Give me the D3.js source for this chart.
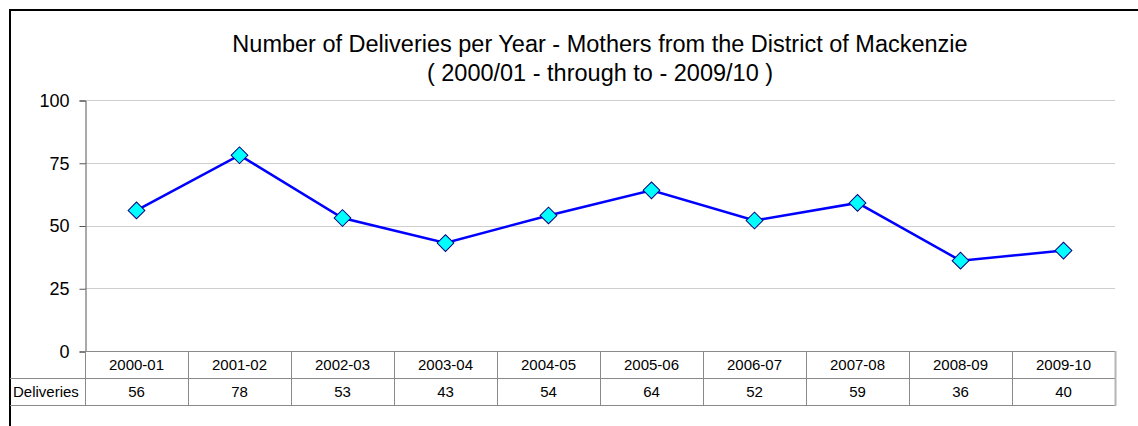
<!DOCTYPE html>
<html>
<head>
<meta charset="utf-8">
<script src="https://cdn.jsdelivr.net/npm/d3@7"></script>
<style>
  body { margin: 0; background: #fff; }
  svg { display: block; font-family: "Liberation Sans", Arial, sans-serif; }
</style>
</head>
<body>
<svg id="chart" width="1138" height="426"></svg>
<script>
var years = ["2000-01", "2001-02", "2002-03", "2003-04", "2004-05", "2005-06", "2006-07", "2007-08", "2008-09", "2009-10"],
    deliveries = [56, 78, 53, 43, 54, 64, 52, 59, 36, 40],
    yTicks = [0, 25, 50, 75, 100],
    seriesName = "Deliveries",
    titleLines = ["Number of Deliveries per Year - Mothers from the District of Mackenzie", "( 2000/01 - through to - 2009/10 )"];

var svg = d3.select("#chart"),
    plotLeft = 85, plotRight = 1115, plotTop = 100, plotBottom = 351,
    rowH = 27;

var x = d3.scaleBand().domain(years).range([plotLeft, plotRight]),
    y = d3.scaleLinear().domain([0, 100]).range([plotBottom, plotTop]);

// outer chart frame (only top and left visible)
svg.append("path")
    .attr("d", "M10,426V10H1138")
    .attr("fill", "none")
    .attr("stroke", "#000")
    .attr("stroke-width", 2);

// title
svg.append("text")
    .attr("text-anchor", "middle")
    .attr("font-size", 23.5)
    .attr("fill", "#000")
    .selectAll("tspan")
    .data(titleLines)
    .enter().append("tspan")
    .attr("x", 600)
    .attr("y", (d, i) => 52 + i * 29)
    .text(d => d);

// gridlines
svg.append("g")
    .selectAll("line")
    .data(yTicks.filter(d => d > 0))
    .enter().append("line")
    .attr("x1", plotLeft).attr("x2", plotRight)
    .attr("y1", d => Math.round(y(d)) + 0.5)
    .attr("y2", d => Math.round(y(d)) + 0.5)
    .attr("stroke", "#cfcfcf")
    .attr("stroke-width", 1);

// y axis
var yAxis = svg.append("g")
    .attr("transform", "translate(" + (plotLeft + 0.5) + ",0.5)")
    .call(d3.axisLeft(y).tickValues(yTicks).tickSize(6).tickPadding(10));
yAxis.select(".domain").attr("stroke", "#555");
yAxis.selectAll(".tick line").attr("stroke", "#555");
yAxis.selectAll(".tick text")
    .attr("font-size", 18)
    .attr("font-family", "Liberation Sans, Arial, sans-serif")
    .attr("fill", "#000");

// data table under the plot
var table = svg.append("g");
var gridColor = "#8a8a8a";

table.append("line")
    .attr("x1", plotLeft).attr("x2", plotRight)
    .attr("y1", plotBottom + 0.5).attr("y2", plotBottom + 0.5)
    .attr("stroke", gridColor);
table.append("line")
    .attr("x1", 10).attr("x2", plotRight)
    .attr("y1", plotBottom + rowH + 0.5).attr("y2", plotBottom + rowH + 0.5)
    .attr("stroke", gridColor);
table.append("line")
    .attr("x1", 10).attr("x2", plotRight)
    .attr("y1", plotBottom + 2 * rowH + 0.5).attr("y2", plotBottom + 2 * rowH + 0.5)
    .attr("stroke", gridColor);

table.selectAll(".vline")
    .data(years)
    .enter().append("line")
    .attr("class", "vline")
    .attr("x1", d => Math.round(x(d)) + 0.5)
    .attr("x2", d => Math.round(x(d)) + 0.5)
    .attr("y1", plotBottom).attr("y2", plotBottom + 2 * rowH)
    .attr("stroke", gridColor);
table.append("line")
    .attr("x1", plotRight + 0.5).attr("x2", plotRight + 0.5)
    .attr("y1", plotBottom).attr("y2", plotBottom + 2 * rowH + 1)
    .attr("stroke", "#b5b5b5")
    .attr("stroke-width", 2);

table.selectAll(".cat")
    .data(years)
    .enter().append("text")
    .attr("class", "cat")
    .attr("x", d => x(d) + x.bandwidth() / 2)
    .attr("y", plotBottom + 19)
    .attr("text-anchor", "middle")
    .attr("font-size", 15)
    .text(d => d);

table.selectAll(".val")
    .data(deliveries)
    .enter().append("text")
    .attr("class", "val")
    .attr("x", (d, i) => x(years[i]) + x.bandwidth() / 2)
    .attr("y", plotBottom + rowH + 19)
    .attr("text-anchor", "middle")
    .attr("font-size", 15)
    .text(d => d);

table.append("text")
    .attr("x", 13)
    .attr("y", plotBottom + rowH + 19)
    .attr("font-size", 15)
    .text(seriesName);

// series line
var pts = deliveries.map((d, i) => [x(years[i]) + x.bandwidth() / 2, y(d)]);

svg.append("path")
    .datum(pts)
    .attr("d", d3.line())
    .attr("fill", "none")
    .attr("stroke", "#0000ff")
    .attr("stroke-width", 2.5);

svg.selectAll(".marker")
    .data(pts)
    .enter().append("path")
    .attr("class", "marker")
    .attr("d", d3.symbol().type(d3.symbolSquare).size(140))
    .attr("transform", d => "translate(" + d[0] + "," + d[1] + ") rotate(45)")
    .attr("fill", "#00ffff")
    .attr("stroke", "#000080")
    .attr("stroke-width", 1);
</script>
</body>
</html>
